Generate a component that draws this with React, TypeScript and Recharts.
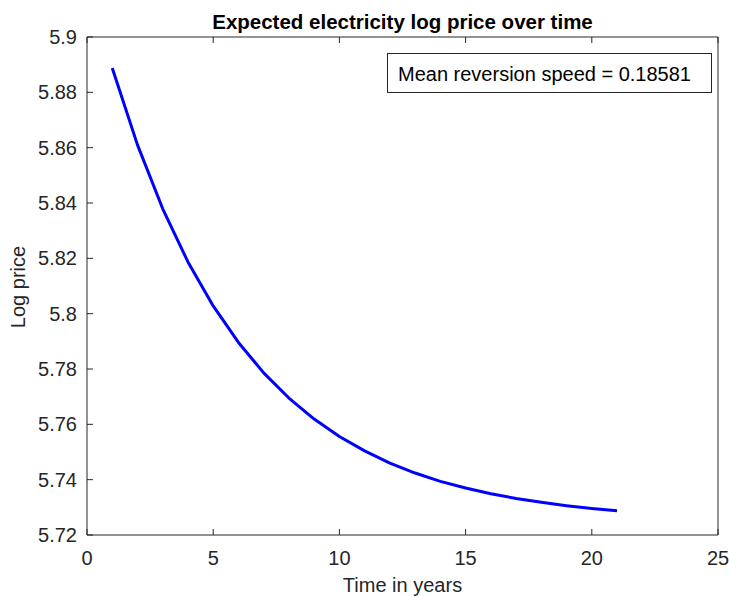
import React from 'react';
import { LineChart, Line, XAxis, YAxis } from 'recharts';

const years = [1, 2, 3, 4, 5, 6, 7, 8, 9, 10, 11, 12, 13, 14, 15, 16, 17, 18, 19, 20, 21];
const logPrice = [
  5.8888, 5.861, 5.8379, 5.8187, 5.8028, 5.7896, 5.7786, 5.7695, 5.7619, 5.7556,
  5.7504, 5.746, 5.7424, 5.7394, 5.737, 5.7349, 5.7332, 5.7318, 5.7306, 5.7296, 5.7288,
];
const xTicks = [0, 5, 10, 15, 20, 25];
const yTicks = [5.72, 5.74, 5.76, 5.78, 5.8, 5.82, 5.84, 5.86, 5.88, 5.9];

const data = years.map((t, i) => ({ t, v: logPrice[i] }));

const FONT = '"Liberation Sans", Arial, sans-serif';
const AX = '#262626';

const fmtY = (v: number) => String(Number(v.toFixed(2)));

function BottomTick(props: any) {
  const { x, y, payload } = props;
  return (
    <g>
      <line x1={x} y1={y} x2={x} y2={y - 6} stroke={AX} />
      <text x={x} y={y + 30} textAnchor="middle" fontSize={20} fill={AX} fontFamily={FONT}>
        {payload.value}
      </text>
    </g>
  );
}

function TopTick(props: any) {
  const { x, y } = props;
  return <line x1={x} y1={y} x2={x} y2={y + 6} stroke={AX} />;
}

function LeftTick(props: any) {
  const { x, y, payload } = props;
  return (
    <g>
      <line x1={x} y1={y} x2={x + 6} y2={y} stroke={AX} />
      <text x={x - 10} y={y + 7} textAnchor="end" fontSize={20} fill={AX} fontFamily={FONT}>
        {fmtY(payload.value)}
      </text>
    </g>
  );
}

function RightTick(props: any) {
  const { x, y } = props;
  return <line x1={x} y1={y} x2={x - 6} y2={y} stroke={AX} />;
}

export default function App() {
  return (
    <div style={{ position: 'absolute', left: 0, top: 0, width: 729, height: 596, background: '#fff', fontFamily: FONT }}>
      <LineChart width={729} height={596} data={data} margin={{ top: 36, right: 10, bottom: 31, left: 27 }}>
        <XAxis
          xAxisId="b"
          dataKey="t"
          type="number"
          domain={[0, 25]}
          ticks={xTicks}
          height={30}
          tickSize={0}
          tickMargin={0}
          tickLine={false}
          axisLine={{ stroke: AX }}
          tick={<BottomTick />}
          interval={0}
        />
        <XAxis
          xAxisId="t"
          orientation="top"
          dataKey="t"
          type="number"
          domain={[0, 25]}
          ticks={xTicks}
          height={1}
          tickSize={0}
          tickMargin={0}
          tickLine={false}
          axisLine={{ stroke: AX }}
          tick={<TopTick />}
          interval={0}
        />
        <YAxis
          yAxisId="l"
          type="number"
          domain={[5.72, 5.9]}
          ticks={yTicks}
          width={60}
          tickSize={0}
          tickMargin={0}
          tickLine={false}
          axisLine={{ stroke: AX }}
          tick={<LeftTick />}
          interval={0}
        />
        <YAxis
          yAxisId="r"
          orientation="right"
          type="number"
          domain={[5.72, 5.9]}
          ticks={yTicks}
          width={1}
          tickSize={0}
          tickMargin={0}
          tickLine={false}
          axisLine={{ stroke: AX }}
          tick={<RightTick />}
          interval={0}
        />
        <Line
          xAxisId="b"
          yAxisId="l"
          dataKey="v"
          type="linear"
          stroke="#0000ff"
          strokeWidth={3}
          strokeLinejoin="round"
          dot={false}
          isAnimationActive={false}
        />
      </LineChart>
      <div
        style={{
          position: 'absolute',
          left: 0,
          width: 805,
          top: 12,
          lineHeight: '20px',
          textAlign: 'center',
          fontSize: 20.5,
          fontWeight: 'bold',
          color: '#000',
        }}
      >
        Expected electricity log price over time
      </div>
      <div
        style={{
          position: 'absolute',
          left: 387,
          top: 53,
          width: 325,
          height: 40,
          border: `1px solid ${AX}`,
          background: '#fff',
          boxSizing: 'border-box',
          fontSize: 20,
          color: '#000',
          lineHeight: '40px',
          paddingLeft: 10,
        }}
      >
        Mean reversion speed = 0.18581
      </div>
      <div
        style={{
          position: 'absolute',
          left: 87,
          width: 631,
          top: 575,
          lineHeight: '20px',
          textAlign: 'center',
          fontSize: 20,
          color: AX,
        }}
      >
        Time in years
      </div>
      <div
        style={{
          position: 'absolute',
          left: 18,
          top: 287,
          transform: 'translate(-50%, -50%) rotate(-90deg)',
          fontSize: 20,
          color: AX,
          whiteSpace: 'nowrap',
        }}
      >
        Log price
      </div>
    </div>
  );
}
